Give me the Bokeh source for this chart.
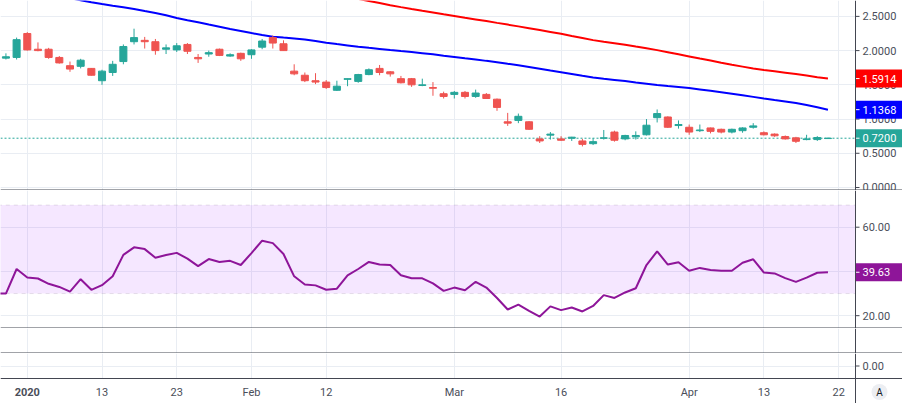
import numpy as np
from bokeh.plotting import figure
from bokeh.layouts import column
from bokeh.core.properties import value
from bokeh.models import Range1d, FixedTicker, Span, BoxAnnotation, ColumnDataSource
from bokeh.embed import file_html
from bokeh.resources import INLINE

# ---------------- data ----------------
dates = ["2019-12-30", "2019-12-31",
         "2020-01-02", "2020-01-03", "2020-01-06", "2020-01-07", "2020-01-08", "2020-01-09", "2020-01-10",
         "2020-01-13", "2020-01-14", "2020-01-15", "2020-01-16", "2020-01-17", "2020-01-21", "2020-01-22",
         "2020-01-23", "2020-01-24", "2020-01-27", "2020-01-28", "2020-01-29", "2020-01-30", "2020-01-31",
         "2020-02-03", "2020-02-04", "2020-02-05", "2020-02-06", "2020-02-07", "2020-02-10", "2020-02-11",
         "2020-02-12", "2020-02-13", "2020-02-14", "2020-02-18", "2020-02-19", "2020-02-20", "2020-02-21",
         "2020-02-24", "2020-02-25", "2020-02-26", "2020-02-27", "2020-02-28",
         "2020-03-02", "2020-03-03", "2020-03-04", "2020-03-05", "2020-03-06", "2020-03-09", "2020-03-10",
         "2020-03-11", "2020-03-12", "2020-03-13", "2020-03-16", "2020-03-17", "2020-03-18", "2020-03-19",
         "2020-03-20", "2020-03-23", "2020-03-24", "2020-03-25", "2020-03-26", "2020-03-27", "2020-03-30",
         "2020-03-31", "2020-04-01", "2020-04-02", "2020-04-03", "2020-04-06", "2020-04-07", "2020-04-08",
         "2020-04-09", "2020-04-13", "2020-04-14", "2020-04-15", "2020-04-16", "2020-04-17", "2020-04-20",
         "2020-04-21"]

opens = [1.89, 1.90, 2.25, 2.02, 2.02, 1.90, 1.78, 1.77, 1.74, 1.56,
         1.68, 1.84, 2.13, 2.15, 2.13, 2.02, 2.01, 2.09, 1.90, 1.95,
         2.02, 1.92, 1.96, 1.94, 2.05, 2.19, 2.10, 1.70, 1.64, 1.56,
         1.54, 1.42, 1.58, 1.55, 1.65, 1.74, 1.69, 1.59, 1.59, 1.49,
         1.46, 1.37, 1.36, 1.39, 1.33, 1.36, 1.29, 0.96, 0.98, 0.96,
         0.71, 0.765, 0.71, 0.72, 0.68, 0.64, 0.72, 0.81, 0.71, 0.74,
         0.77, 1.02, 1.03, 0.905, 0.88, 0.83, 0.87, 0.85, 0.81, 0.83,
         0.88, 0.80, 0.78, 0.745, 0.725, 0.70, 0.70, 0.715]
highs = [1.96, 2.19, 2.27, 2.12, 2.04, 1.92, 1.84, 1.88, 1.745, 1.72,
         1.85, 2.09, 2.32, 2.20, 2.17, 2.09, 2.11, 2.11, 1.95, 2.00,
         2.03, 1.96, 1.97, 2.02, 2.17, 2.22, 2.15, 1.80, 1.68, 1.67,
         1.57, 1.56, 1.59, 1.66, 1.74, 1.79, 1.70, 1.63, 1.60, 1.59,
         1.54, 1.40, 1.41, 1.41, 1.43, 1.38, 1.30, 1.09, 1.08, 0.97,
         0.75, 0.81, 0.75, 0.74, 0.71, 0.72, 0.84, 0.83, 0.77, 0.82,
         1.00, 1.14, 1.04, 0.98, 0.92, 0.92, 0.875, 0.86, 0.86, 0.88,
         0.94, 0.82, 0.79, 0.76, 0.74, 0.77, 0.75, 0.73]
lows = [1.87, 1.87, 2.00, 1.99, 1.88, 1.81, 1.69, 1.74, 1.635, 1.50,
        1.63, 1.80, 2.09, 2.03, 1.94, 1.95, 1.98, 1.95, 1.82, 1.91,
        1.92, 1.91, 1.85, 1.88, 2.02, 2.03, 2.00, 1.64, 1.54, 1.51,
        1.44, 1.41, 1.48, 1.53, 1.64, 1.64, 1.62, 1.52, 1.47, 1.48,
        1.34, 1.30, 1.30, 1.30, 1.31, 1.30, 1.12, 0.90, 0.94, 0.84,
        0.65, 0.70, 0.68, 0.68, 0.60, 0.62, 0.70, 0.67, 0.69, 0.70,
        0.76, 0.95, 0.87, 0.86, 0.77, 0.81, 0.79, 0.79, 0.79, 0.80,
        0.86, 0.76, 0.74, 0.70, 0.65, 0.69, 0.68, 0.71]
closes = [1.91, 2.16, 2.01, 2.00, 1.90, 1.82, 1.73, 1.86, 1.64, 1.70,
          1.80, 2.06, 2.19, 2.13, 2.00, 2.04, 2.07, 1.99, 1.88, 1.97,
          1.93, 1.94, 1.88, 2.01, 2.14, 2.11, 2.00, 1.66, 1.56, 1.54,
          1.46, 1.48, 1.59, 1.65, 1.72, 1.68, 1.66, 1.53, 1.50, 1.50,
          1.45, 1.33, 1.39, 1.33, 1.38, 1.30, 1.17, 0.94, 1.04, 0.85,
          0.68, 0.78, 0.69, 0.735, 0.63, 0.67, 0.725, 0.69, 0.76, 0.76,
          0.91, 1.08, 0.88, 0.92, 0.81, 0.84, 0.82, 0.81, 0.85, 0.87,
          0.90, 0.77, 0.755, 0.71, 0.675, 0.71, 0.73, 0.72]

nan = float("nan")
ma_blue = [nan, nan, nan, nan, nan, 2.795, 2.765, 2.737, 2.708, 2.680,
           2.656, 2.633, 2.609, 2.578, 2.548, 2.517, 2.476, 2.442, 2.414, 2.381,
           2.349, 2.316, 2.286, 2.256, 2.227, 2.204, 2.190, 2.177, 2.161, 2.139,
           2.115, 2.095, 2.076, 2.057, 2.040, 2.024, 2.008, 1.993, 1.979, 1.963,
           1.946, 1.926, 1.907, 1.888, 1.870, 1.850, 1.831, 1.807, 1.785, 1.762,
           1.735, 1.708, 1.684, 1.659, 1.633, 1.608, 1.589, 1.572, 1.555, 1.535,
           1.517, 1.499, 1.482, 1.467, 1.452, 1.432, 1.412, 1.392, 1.370, 1.347,
           1.324, 1.300, 1.278, 1.258, 1.235, 1.205, 1.173, 1.1368]
ma_red = [nan] * 32 + [
          2.786, 2.755, 2.725, 2.694, 2.663, 2.635, 2.608, 2.582,
          2.557, 2.531, 2.506, 2.480, 2.456, 2.431, 2.405, 2.380, 2.354, 2.327,
          2.300, 2.273, 2.245, 2.214, 2.184, 2.153, 2.130, 2.108, 2.085, 2.059,
          2.034, 2.007, 1.977, 1.946, 1.915, 1.884, 1.854, 1.823, 1.794, 1.766,
          1.738, 1.717, 1.697, 1.677, 1.657, 1.635, 1.612, 1.5914]

# RSI: first value belongs to the session before the first candle (2019-12-27)
rsi = [30.0,
       30.0, 41.1, 37.3, 36.8, 34.4, 33.0, 30.9, 36.5, 31.7, 33.8,
       37.8, 47.5, 50.9, 50.1, 46.2, 47.4, 48.4, 45.8, 42.4, 45.6,
       44.3, 44.8, 42.9, 48.3, 53.9, 52.8, 47.9, 37.8, 34.1, 33.7,
       31.7, 32.2, 38.2, 41.1, 44.3, 43.1, 42.9, 38.3, 36.9, 36.9,
       34.6, 31.2, 32.7, 31.5, 35.3, 32.7, 28.0, 22.8, 25.0, 22.2,
       19.6, 24.2, 22.5, 23.7, 21.9, 24.4, 29.3, 28.0, 30.5, 32.4,
       42.9, 49.1, 43.1, 44.2, 40.3, 41.6, 40.7, 40.3, 40.3, 43.9,
       45.5, 39.5, 39.1, 37.0, 35.3, 37.2, 39.4, 39.63]

tick_idx = [2, 9, 16, 23, 30, 42, 52, 64, 71, 78]
tick_labels = ["2020", "13", "23", "Feb", "12", "Mar", "16", "Apr", "13", "22"]
price_ticks = [0.0, 0.5, 1.0, 1.5, 2.0, 2.5]
rsi_ticks = [20, 40, 60]
rsi_lower, rsi_upper = 30, 70
pane4_ticks = [0]

# ---------------- style / geometry ----------------
GREEN = "#26a69a"
RED = "#ef5350"
BLUE_MA = "#0000ff"
RED_MA = "#ff0000"
PURPLE = "#8e1599"
DARK = "#434651"
GRID = "#e9edf3"
TEXT = "#4a4e59"
FONT = value("Roboto")
FS = value("11px")

W = 902
CHART_W, AXIS_W = 855, 47
X0, XA = -0.509, 79.58            # chart left edge, price-axis line (index units)
PX = (XA - X0) / CHART_W          # index units per pixel
X1 = XA + AXIS_W * PX
xr = Range1d(X0, X1)


def pane(h, lo, hi, ticks, sep=True):
    p = figure(width=W, height=h, x_range=xr, y_range=Range1d(lo, hi), output_backend="svg",
               toolbar_location=None, x_axis_location=None, y_axis_location=None,
               min_border_left=0, min_border_right=0, min_border_top=0, min_border_bottom=0)
    p.outline_line_color = None
    p.background_fill_color = "white"
    p.border_fill_color = "white"
    p.xgrid.ticker = FixedTicker(ticks=tick_idx)
    p.ygrid.ticker = FixedTicker(ticks=ticks)
    p.xgrid.grid_line_color = GRID
    p.ygrid.grid_line_color = GRID
    p._sep = sep
    p._h = h
    return p


def finish_axis(p, ticks, labels):
    # white cover of the price-scale strip (hides grid lines there)
    p.add_layout(BoxAnnotation(left=XA, right=X1 + 1, fill_color="white", fill_alpha=1,
                               line_color=None, level="underlay"))
    if len(ticks):
        src = ColumnDataSource(dict(x0=[XA] * len(ticks), x1=[XA + 4 * PX] * len(ticks),
                                    xt=[XA + 7 * PX] * len(ticks), y=list(ticks), t=labels))
        p.segment(x0="x0", y0="y", x1="x1", y1="y", source=src, line_color=DARK, line_width=1)
        p.text(x="xt", y="y", text="t", source=src, text_font=FONT, text_font_size=FS,
               text_color=TEXT, text_baseline="middle", text_align="left")


def value_tag(p, y, text, color):
    p.rect(x=[XA + AXIS_W * PX / 2 + 0.5 * PX], y=[y], width=AXIS_W, height=18,
           width_units="screen", height_units="screen", fill_color=color, line_color=None)
    p.segment(x0=[XA], y0=[y], x1=[XA + 4 * PX], y1=[y], line_color="white", line_width=1)
    p.text(x=[XA + 7 * PX], y=[y], text=[text], text_font=FONT, text_font_size=FS,
           text_color="white", text_baseline="middle", text_align="left")


def edges(p, lo, hi):
    p.add_layout(Span(location=XA, dimension="height", line_color=DARK, line_width=1))
    if p._sep:
        p.add_layout(Span(location=lo + 0.5 * (hi - lo) / p._h, dimension="width",
                          line_color=DARK, line_width=1))


x = np.arange(len(dates))
o = np.array(opens); h = np.array(highs); l = np.array(lows); c = np.array(closes)

# ---------------- main price pane ----------------
lo1, hi1 = -0.044, 2.732
p1 = pane(190, lo1, hi1, price_ticks)
p1.add_layout(Span(location=closes[-1], dimension="width", line_color=GREEN,
                   line_width=1, line_dash="2 2", level="underlay"))
finish_axis(p1, price_ticks, [f"{t:.4f}" for t in price_ticks])
p1.line(x, ma_blue, line_color=BLUE_MA, line_width=2)
p1.line(x, ma_red, line_color=RED_MA, line_width=2)
for mask, col in ((c >= o, GREEN), (c < o, RED)):
    src = ColumnDataSource(dict(x=x[mask], top=np.maximum(o, c)[mask], bottom=np.minimum(o, c)[mask],
                                high=h[mask], low=l[mask]))
    p1.segment(x0="x", y0="high", x1="x", y1="low", source=src, line_color=col, line_width=1)
    p1.vbar(x="x", width=0.66, top="top", bottom="bottom", source=src,
            fill_color=col, line_color=col, line_width=1)
value_tag(p1, ma_red[-1], f"{ma_red[-1]:.4f}", RED_MA)
value_tag(p1, ma_blue[-1], f"{ma_blue[-1]:.4f}", BLUE_MA)
value_tag(p1, closes[-1], f"{closes[-1]:.4f}", GREEN)
edges(p1, lo1, hi1)

# ---------------- RSI pane ----------------
lo2, hi2 = 14.2, 76.6
p2 = pane(138, lo2, hi2, rsi_ticks)
p2.add_layout(BoxAnnotation(left=X0 - 1, right=XA, bottom=rsi_lower, top=rsi_upper,
                            fill_color="#9915ff", fill_alpha=0.1, line_color="#aea3b5",
                            line_width=1, line_dash="4 4", level="underlay"))
finish_axis(p2, rsi_ticks, [f"{t:.2f}" for t in rsi_ticks])
rsi_x = np.arange(len(rsi)) - 1
p2.line(rsi_x, rsi, line_color=PURPLE, line_width=2)
value_tag(p2, rsi[-1], f"{rsi[-1]:.2f}", PURPLE)
edges(p2, lo2, hi2)

# ---------------- empty pane ----------------
lo3, hi3 = 0, 1
p3 = pane(25, lo3, hi3, [])
finish_axis(p3, [], [])
edges(p3, lo3, hi3)

# ---------------- lower pane + time scale ----------------
lo4, hi4 = -3, 1          # top 25 px: pane (0 in the middle); bottom 25 px: time scale
TIME_Y = -2.08
p4 = pane(50, lo4, hi4, pane4_ticks, sep=False)
p4.add_layout(BoxAnnotation(top=-1, fill_color="white", fill_alpha=1, line_color=None,
                            level="underlay"))
finish_axis(p4, pane4_ticks, [f"{t:.2f}" for t in pane4_ticks])
p4.add_layout(Span(location=-1, dimension="width", line_color=DARK, line_width=1))
tsrc = ColumnDataSource(dict(x=tick_idx, y=[TIME_Y] * len(tick_idx), t=tick_labels,
                             s=["bold" if t == "2020" else "normal" for t in tick_labels]))
p4.text(x="x", y="y", text="t", source=tsrc, text_font=FONT, text_font_size=FS,
        text_font_style="s", text_color=TEXT, text_align="center", text_baseline="middle")
p4.scatter(x=[XA + 24 * PX], y=[TIME_Y], size=16, marker="circle", fill_color="#eceef2",
           line_color=None)
p4.text(x=[XA + 24 * PX], y=[TIME_Y], text=["A"], text_font=FONT, text_font_size=value("10px"),
        text_color="#131722", text_align="center", text_baseline="middle")
edges(p4, lo4, hi4)

layout = column(p1, p2, p3, p4, spacing=0)
open("out.html", "w").write(file_html(layout, INLINE))
